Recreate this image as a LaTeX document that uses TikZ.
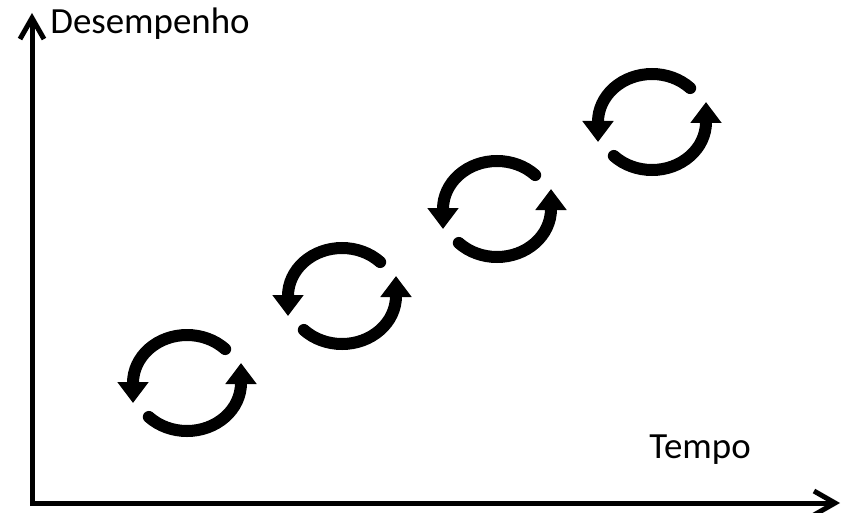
\documentclass[tikz,border=0pt]{standalone}
\usepackage{fontspec}
\setmainfont{Carlito}
\usetikzlibrary{arrows.meta}
\tikzset{
  eixo/.style={line width=0.1cm, line join=miter, {Straight Barb[length=0.42cm,width=0.48cm]}-{Straight Barb[length=0.42cm,width=0.48cm]}},
  ciclo/.style={line width=0.24cm, line cap=round, -{Triangle[length=0.42cm,width=0.6cm]}},
  rotulo/.style={font=\fontsize{21}{25}\selectfont, inner sep=0pt}
}
\begin{document}
\begin{tikzpicture}
	\useasboundingbox (0,0) rectangle (16.9,10.24);
	\coordinate (o) at (0.64,0.18);
	\coordinate (ytop) at (0.64,9.98);
	\coordinate (xend) at (16.8,0.18);
	\draw[eixo] (ytop) -- (o) -- (xend);
	\node[rotulo, anchor=base west] (desempenho) at (1.0,9.56) {Desempenho};
	\node[rotulo, anchor=base west] (tempo) at (12.98,1.08) {Tempo};
	% ciclos
	\foreach \i in {0,...,3}{
		\begin{scope}[shift={(3.74+3.1*\i,2.58+1.74*\i)}]
			\draw[ciclo] (45:1.08 and 0.96) arc[start angle=45,end angle=180,x radius=1.08,y radius=0.96] -- ++(0,-0.4);
			\draw[ciclo] (225:1.08 and 0.96) arc[start angle=225,end angle=360,x radius=1.08,y radius=0.96] -- ++(0,0.4);
		\end{scope}
	}
\end{tikzpicture}
\end{document}
